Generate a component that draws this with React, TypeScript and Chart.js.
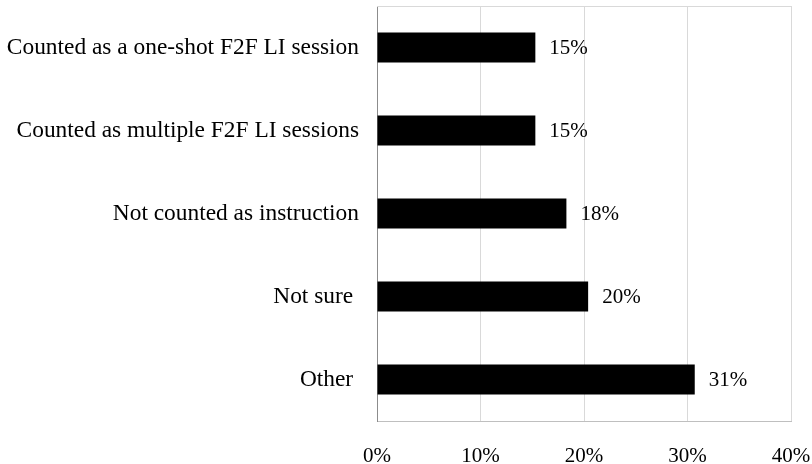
import React, { useEffect, useRef } from "react";
import { Chart, registerables } from "chart.js";

Chart.register(...registerables);

const categories = [
  "Counted as a one-shot F2F LI session",
  "Counted as multiple F2F LI sessions",
  "Not counted as instruction",
  "Not sure ",
  "Other ",
];
const values = [15.3, 15.3, 18.3, 20.4, 30.7];
const xTicks = [0, 10, 20, 30, 40];

const FONT = "'Liberation Serif', 'Times New Roman', serif";

const framePlugin = {
  id: "frame",
  afterDraw(chart: any) {
    const { ctx, chartArea } = chart;
    ctx.save();
    ctx.strokeStyle = "#d9d9d9";
    ctx.lineWidth = 1;
    ctx.beginPath();
    ctx.moveTo(chartArea.left, chartArea.top + 0.5);
    ctx.lineTo(chartArea.right, chartArea.top + 0.5);
    ctx.stroke();
    ctx.restore();
  },
};

const valueLabelPlugin = {
  id: "valueLabels",
  afterDatasetsDraw(chart: any) {
    const { ctx } = chart;
    const meta = chart.getDatasetMeta(0);
    ctx.save();
    ctx.fillStyle = "#000";
    ctx.font = `21px ${FONT}`;
    ctx.textAlign = "left";
    ctx.textBaseline = "middle";
    meta.data.forEach((bar: any, i: number) => {
      const v = chart.data.datasets[0].data[i] as number;
      ctx.fillText(`${Math.round(v)}%`, bar.x + 14, bar.y + 1);
    });
    ctx.restore();
  },
};

export default function App() {
  const ref = useRef<HTMLCanvasElement | null>(null);
  useEffect(() => {
    if (!ref.current) return;
    const chart = new Chart(ref.current, {
      type: "bar",
      data: {
        labels: categories,
        datasets: [
          {
            data: values,
            backgroundColor: "#000",
            borderWidth: 0,
            barPercentage: 0.36,
            categoryPercentage: 1,
          },
        ],
      },
      options: {
        indexAxis: "y",
        animation: false,
        responsive: false,
        maintainAspectRatio: false,
        layout: { padding: { top: 6, right: 21, left: 0, bottom: 0 } },
        plugins: { legend: { display: false }, tooltip: { enabled: false } },
        scales: {
          x: {
            min: 0,
            max: 40,
            afterBuildTicks(axis: any) {
              axis.ticks = xTicks.map((v) => ({ value: v }));
            },
            grid: {
              color: "#d9d9d9",
              drawTicks: false,
            },
            border: { display: true, color: "#bfbfbf" },
            ticks: {
              padding: 23,
              color: "#000",
              font: { family: FONT, size: 21 },
              callback: (v: any) => `${v}%`,
            },
            afterFit(axis: any) {
              axis.height = 43;
              axis.paddingLeft = 0;
              axis.paddingRight = 0;
            },
          },
          y: {
            grid: { display: false, drawTicks: false },
            border: { display: true, color: "#8c8c8c" },
            ticks: {
              padding: 18,
              color: "#000",
              font: { family: FONT, size: 23.4 },
            },
            afterFit(axis: any) {
              axis.width = 377;
              axis.paddingTop = 0;
              axis.paddingBottom = 0;
            },
          },
        },
      },
      plugins: [framePlugin, valueLabelPlugin],
    });
    return () => chart.destroy();
  }, []);
  return (
    <div style={{ position: "fixed", left: 0, top: 0, width: 812, height: 464, background: "#fff" }}>
      <canvas ref={ref} width={812} height={464} style={{ width: 812, height: 464 }} />
    </div>
  );
}
